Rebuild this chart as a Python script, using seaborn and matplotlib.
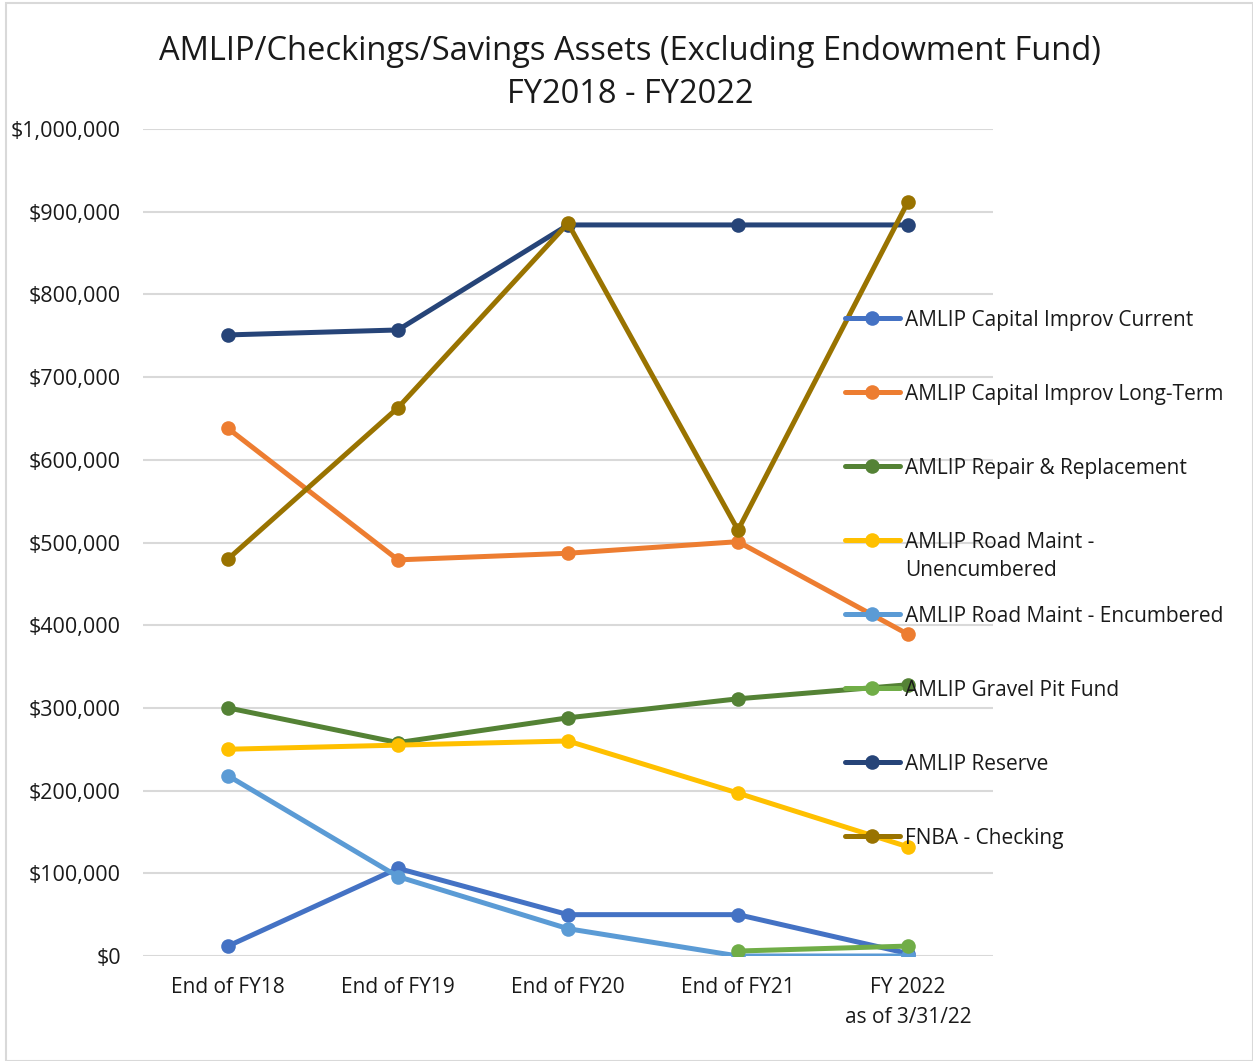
import matplotlib
matplotlib.use("Agg")
import matplotlib.pyplot as plt
import matplotlib.ticker as mticker
from matplotlib.lines import Line2D
from matplotlib.patches import Rectangle
import pandas as pd
import seaborn as sns

# --- Data ---
categories = ["End of FY18", "End of FY19", "End of FY20", "End of FY21", "FY 2022\nas of 3/31/22"]

cap_current = [12000, 106000, 50000, 50000, 3000]
cap_longterm = [638000, 479000, 487000, 501000, 389000]
repair_repl = [300000, 258000, 288000, 311000, 328000]
road_unenc = [250000, 255000, 260000, 197000, 132000]
road_enc = [218000, 96000, 33000, 0, 0]
gravel_pit = [None, None, None, 6000, 12000]
reserve = [751000, 757000, 884000, 884000, 884000]
fnba_checking = [480000, 663000, 886000, 515000, 912000]

series_names = [
    "AMLIP Capital Improv Current",
    "AMLIP Capital Improv Long-Term",
    "AMLIP Repair & Replacement",
    "AMLIP Road Maint -\nUnencumbered",
    "AMLIP Road Maint - Encumbered",
    "AMLIP Gravel Pit Fund",
    "AMLIP Reserve",
    "FNBA - Checking",
]
series_values = [cap_current, cap_longterm, repair_repl, road_unenc,
                 road_enc, gravel_pit, reserve, fnba_checking]
colors = ["#4472C4", "#ED7D31", "#548235", "#FFC000",
          "#5B9BD5", "#70AD47", "#264478", "#997300"]

# --- Long-form table for seaborn ---
rows = []
for name, vals in zip(series_names, series_values):
    for i, v in enumerate(vals):
        if v is not None:
            rows.append({"series": name, "x": i, "value": v})
df = pd.DataFrame(rows)

sns.set_style("white")
plt.rcParams["font.family"] = ["Open Sans", "DejaVu Sans"]
TXT = "#1a1a1a"

fig = plt.figure(figsize=(12.53, 10.61), dpi=100)
ax = fig.add_axes([143 / 1253, 1 - 956 / 1061, 850 / 1253, 827 / 1061])

sns.lineplot(data=df, x="x", y="value", hue="series", hue_order=series_names,
             palette=colors, marker="o", markersize=10.5, markeredgewidth=0,
             linewidth=3.6, legend=False, ax=ax)

ax.set_xlim(-0.5, len(categories) - 0.5)
ax.set_ylim(0, 1000000)
ax.set_xticks(range(len(categories)))
ax.set_xticklabels(categories, fontsize=15, color=TXT, linespacing=1.55)
ax.yaxis.set_major_locator(mticker.MultipleLocator(100000))
ax.yaxis.set_major_formatter(mticker.StrMethodFormatter("${x:,.0f}"))
ax.tick_params(axis="y", labelsize=15.5, colors=TXT, length=0, pad=16)
ax.tick_params(axis="x", length=0, pad=15)
ax.grid(axis="y", color="#D9D9D9", linewidth=1.5)
ax.set_axisbelow(True)
for s in ax.spines.values():
    s.set_visible(False)
ax.set_xlabel("")
ax.set_ylabel("")

fig.text(630 / 1253, 1 - 73 / 1061,
         "AMLIP/Checkings/Savings Assets (Excluding Endowment Fund)\nFY2018 - FY2022",
         ha="center", va="center", fontsize=23.5, color=TXT, linespacing=1.4)

# --- Legend on the right, drawn entry by entry like the Excel layout ---
leg_top = 318
leg_step = 74
for i, (name, col) in enumerate(zip(series_names, colors)):
    ypx = leg_top + i * leg_step
    yf = 1 - ypx / 1061
    fig.add_artist(Line2D([845 / 1253, 900 / 1253], [yf, yf], color=col,
                          linewidth=3.6, transform=fig.transFigure))
    fig.add_artist(Line2D([872 / 1253], [yf], color=col, marker="o",
                          markersize=10.5, markeredgewidth=0,
                          transform=fig.transFigure))
    # first text line sits level with the handle
    extra = 10 * name.count("\n")
    fig.text(905 / 1253, 1 - (ypx + extra) / 1061, name, ha="left",
             va="center_baseline", fontsize=15, color=TXT, linespacing=1.45)

fig.add_artist(Rectangle((6 / 1253, 0), 1 - 6 / 1253, 1 - 3 / 1061,
                         transform=fig.transFigure, fill=False,
                         edgecolor="#D9D9D9", linewidth=1.5))

fig.savefig("out.png", dpi=100)
